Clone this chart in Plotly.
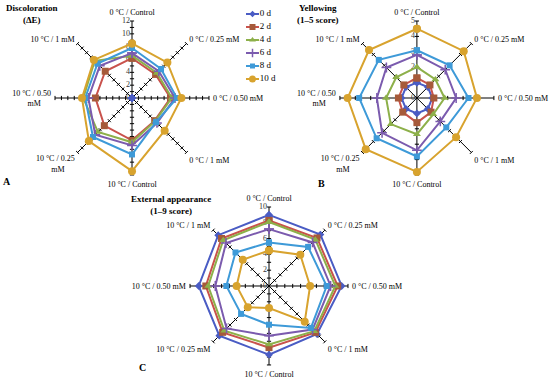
import plotly.graph_objects as go

days = ["0 d", "2 d", "4 d", "6 d", "8 d", "10 d"]

cats_A = ["0 °C / Control", "0 °C / 0.25 mM", "0 °C / 0.50 mM", "0 °C / 1 mM",
          "10 °C / Control", "10 °C / 0.25<br>mM&nbsp;&nbsp;&nbsp;&nbsp;&nbsp;",
          "10 °C / 0.50<br>mM&nbsp;&nbsp;&nbsp;&nbsp;&nbsp;", "10 °C / 1 mM"]
cats_B = cats_A
cats_C = ["0 °C / Control", "0 °C / 0.25 mM", "0 °C / 0.50 mM", "0 °C / 1 mM",
          "10 °C / Control", "10 °C / 0.25 mM", "10 °C / 0.50 mM", "10 °C / 1 mM"]

ticks_A = [0, 2, 4, 6, 8, 10, 12]
ticks_B = [0, 1, 2, 3, 4, 5]
ticks_C = [0, 2, 4, 6, 8, 10]

# Discoloration (ΔE)
disc = {
    "0 d":  [0, 0, 0, 0, 0, 0, 0, 0],
    "2 d":  [6.2, 5.2, 6.0, 5.0, 6.6, 6.1, 5.7, 5.9],
    "4 d":  [6.6, 5.5, 6.2, 5.1, 6.9, 7.5, 7.6, 8.2],
    "6 d":  [7.0, 5.9, 6.7, 5.5, 7.4, 8.1, 6.8, 7.1],
    "8 d":  [7.8, 6.4, 7.0, 5.3, 8.8, 8.6, 7.3, 7.6],
    "10 d": [8.5, 7.8, 7.7, 7.2, 11.4, 9.5, 7.8, 8.4],
}
# Yellowing (1-5 score)
yell = {
    "0 d":  [1.0, 1.0, 1.0, 1.0, 1.0, 1.0, 1.0, 1.0],
    "2 d":  [1.3, 1.2, 1.1, 1.3, 1.6, 1.3, 1.2, 1.2],
    "4 d":  [2.0, 1.7, 1.8, 1.5, 2.35, 2.4, 2.0, 1.9],
    "6 d":  [2.8, 2.6, 2.55, 2.15, 3.4, 3.2, 2.6, 2.8],
    "8 d":  [3.1, 3.0, 3.35, 2.7, 3.8, 3.7, 3.75, 3.5],
    "10 d": [4.5, 4.3, 3.9, 3.6, 4.8, 4.7, 4.5, 4.4],
}
# External appearance (1-9 score)
ext = {
    "0 d":  [9.0, 9.2, 9.2, 8.6, 8.7, 8.9, 8.9, 9.1],
    "2 d":  [8.3, 8.6, 8.7, 8.3, 7.8, 8.3, 8.0, 8.5],
    "4 d":  [8.1, 8.3, 8.4, 8.1, 7.4, 8.0, 7.7, 8.2],
    "6 d":  [7.2, 7.8, 7.8, 7.8, 6.3, 7.6, 6.8, 7.7],
    "8 d":  [5.5, 7.0, 7.3, 7.5, 4.9, 5.0, 5.4, 6.0],
    "10 d": [4.5, 5.6, 5.2, 6.4, 2.8, 3.8, 4.1, 4.7],
}

line_colors = ["#4A5CC4", "#C9524C", "#8DB04A", "#7B5BAE", "#3E9AD8", "#D8A32E"]
marker_colors = ["#4A5CC4", "#A65A3A", "#8DB04A", "#7B5BAE", "#3E9AD8", "#D8A32E"]
symbols = ["diamond", "square", "triangle-up", "cross-thin", "square", "circle"]
msizes = [6, 7, 7, 7, 6, 8]

FONT = "Liberation Serif"

fig = go.Figure()

charts = [
    ("polar", cats_A, disc, 12, ticks_A),
    ("polar2", cats_B, yell, 5, ticks_B),
    ("polar3", cats_C, ext, 10, ticks_C),
]


def mline(i):
    return dict(color=marker_colors[i], width=1.5 if symbols[i] == "cross-thin" else 0)


for ci, (pname, cats, data, rmax, tickvals) in enumerate(charts):
    # small tick marks along each spoke
    tr, tt, ta = [], [], []
    for k, c in enumerate(cats):
        for v in range(1, rmax + 1):
            tr.append(v)
            tt.append(c)
            ta.append(45 * k)
    fig.add_trace(go.Scatterpolar(
        r=tr, theta=tt, mode="markers", subplot=pname, showlegend=False,
        hoverinfo="skip",
        marker=dict(symbol="line-ew", size=3, angle=ta,
                    line=dict(color="black", width=1))))
    # radial value labels to the left of the top spoke
    fig.add_trace(go.Scatterpolar(
        r=tickvals, theta=[cats[0]] * len(tickvals), mode="text",
        text=[f"{v}&nbsp;" for v in tickvals], textposition="middle left",
        subplot=pname, showlegend=False, hoverinfo="skip",
        textfont=dict(family=FONT, size=8, color="#333")))
    for i, d in enumerate(days):
        vals = data[d]
        fig.add_trace(go.Scatterpolar(
            r=vals + [vals[0]], theta=cats + [cats[0]],
            mode="lines+markers", name=d, subplot=pname, showlegend=False,
            line=dict(color=line_colors[i], width=2),
            marker=dict(symbol=symbols[i], size=msizes[i], color=marker_colors[i],
                        line=mline(i)),
        ))

# compact legend drawn on a hidden cartesian axis (row index = day order)
for i, d in enumerate(days):
    fig.add_trace(go.Scatter(x=[0, 1], y=[i, i], mode="lines", showlegend=False,
                             hoverinfo="skip", line=dict(color=line_colors[i], width=2)))
    fig.add_trace(go.Scatter(x=[0.5], y=[i], mode="markers", showlegend=False,
                             hoverinfo="skip",
                             marker=dict(symbol=symbols[i], size=msizes[i] - 1,
                                         color=marker_colors[i], line=mline(i))))
fig.add_trace(go.Scatter(x=[1.05] * len(days), y=list(range(len(days))), mode="text",
                         text=days, textposition="middle right", showlegend=False,
                         hoverinfo="skip",
                         textfont=dict(family=FONT, size=9, color="black")))


def polar_layout(xd, yd, rmax, cats):
    return dict(
        domain=dict(x=xd, y=yd),
        bgcolor="rgba(0,0,0,0)",
        radialaxis=dict(range=[0, rmax], angle=90, showticklabels=False,
                        showline=False, showgrid=False, ticks=""),
        angularaxis=dict(direction="clockwise", rotation=90, categoryorder="array",
                         categoryarray=cats, showline=False, showgrid=True,
                         gridcolor="black", gridwidth=1,
                         ticks="outside", ticklen=2, tickcolor="rgba(0,0,0,0)",
                         tickfont=dict(family=FONT, size=8, color="black")),
    )


fig.update_layout(
    width=550, height=380,
    margin=dict(l=0, r=0, t=0, b=0),
    paper_bgcolor="white", plot_bgcolor="rgba(0,0,0,0)",
    font=dict(family=FONT, size=9, color="black"),
    polar=polar_layout([0.1, 0.38], [0.5395, 0.9447], 12, cats_A),
    polar2=polar_layout([0.618, 0.898], [0.5395, 0.9447], 5, cats_B),
    polar3=polar_layout([0.3455, 0.6327], [0.0395, 0.4553], 10, cats_C),
    xaxis=dict(domain=[246 / 550, 290 / 550], range=[0, 44 / 13], visible=False, fixedrange=True),
    yaxis=dict(domain=[1 - 85.5 / 380, 1 - 7.5 / 380], range=[5.5, -0.5], visible=False, fixedrange=True),
    showlegend=False,
)

ann = [
    (32, 14, "<b>Discoloration</b><br><b>(ΔE)</b>"),
    (318, 14, "<b>Yellowing</b><br><b>(1–5 score)</b>"),
    (171, 205, "<b>External appearance</b><br><b>(1–9 score)</b>"),
    (7, 182, "<b>A</b>"),
    (321, 183, "<b>B</b>"),
    (142, 367, "<b>C</b>"),
]
for x, y, t in ann:
    fig.add_annotation(x=x / 550, y=1 - y / 380, xref="paper", yref="paper",
                       text=t, showarrow=False, xanchor="center", yanchor="middle",
                       font=dict(family=FONT, size=9 if "<br>" in t else 10, color="black"))

fig.write_html("out.html", config={"displayModeBar": False},
               post_script="document.body.style.margin='0px';")
